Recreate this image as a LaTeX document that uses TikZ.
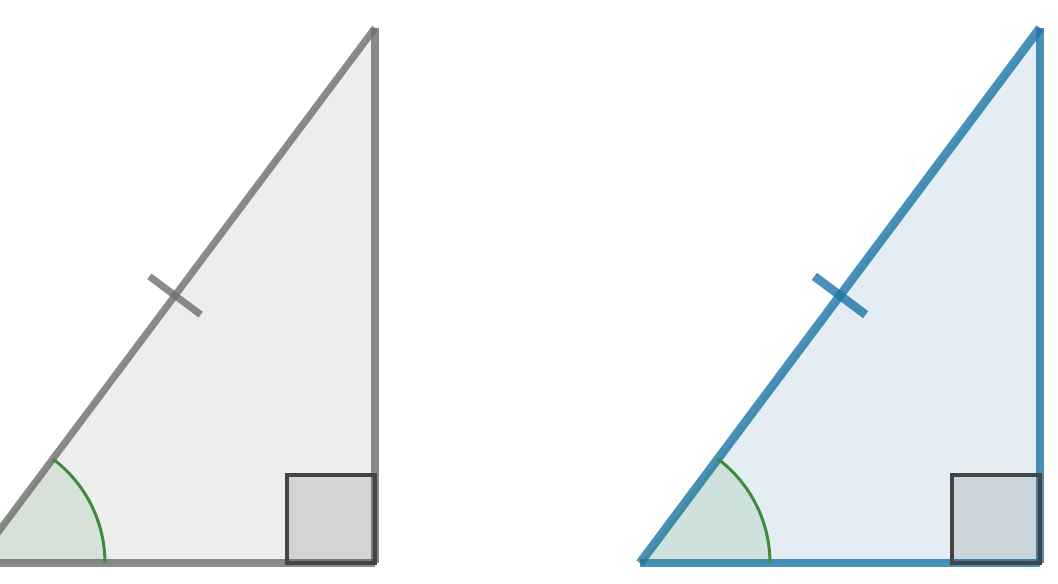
\documentclass[tikz,border=0pt]{standalone}
\usepackage{tikz}
\usetikzlibrary{calc}
\usepackage{xcolor}
\definecolor{edgegray}{HTML}{6E6E6E}
\definecolor{fillgray}{HTML}{EDEDED}
\definecolor{edgeblue}{HTML}{1B75A6}
\definecolor{fillblue}{HTML}{E4EDF4}
\definecolor{anglegreen}{HTML}{3C8C3C}
\definecolor{squaredark}{HTML}{444444}

\tikzset{
  side/.style={line width=#1, draw opacity=0.8},
  anglefill/.style={fill=anglegreen, fill opacity=0.12},
  anglearc/.style={draw=anglegreen, line width=1.7pt},
  rightmark/.style={draw=squaredark, line width=1.8pt, fill=black, fill opacity=0.1},
}

\begin{document}
\begin{tikzpicture}[x=0.02cm, y=0.02cm]
  \useasboundingbox (0,0) rectangle (1058,583);
  \clip (0,0) rectangle (1058,583);

  % left triangle (gray)
  \coordinate (gA) at (-25,20);
  \coordinate (gB) at (375,20);
  \coordinate (gC) at (375,555);
  \coordinate (gM) at ($(gA)!0.5!(gC)$);
  \fill[fillgray] (gA) -- (gB) -- (gC) -- cycle;
  \draw[edgegray, side=4pt] (gA) -- (gB);
  \draw[edgegray, side=4pt] (gB) -- (gC);
  \draw[edgegray, side=4pt] (gA) -- (gC);
  \draw[edgegray, side=4pt] ($(gM)!0.64cm!90:(gC)$) -- ($(gM)!0.64cm!-90:(gC)$);
  \fill[anglefill] (gA) -- ++(2.6cm,0) arc[start angle=0, end angle=53.2, radius=2.6cm] -- cycle;
  \draw[anglearc] ($(gA)+(2.6cm,0)$) arc[start angle=0, end angle=53.2, radius=2.6cm];
  \draw[rightmark] (gB) rectangle ++(-88,88);

  % right triangle (blue)
  \coordinate (bA) at (640,20);
  \coordinate (bB) at (1040,20);
  \coordinate (bC) at (1040,555);
  \coordinate (bM) at ($(bA)!0.5!(bC)$);
  \fill[fillblue] (bA) -- (bB) -- (bC) -- cycle;
  \draw[edgeblue, side=5pt] (bA) -- (bB);
  \draw[edgeblue, side=5pt] (bB) -- (bC);
  \draw[edgeblue, side=5pt] (bA) -- (bC);
  \draw[edgeblue, side=5pt] ($(bM)!0.64cm!90:(bC)$) -- ($(bM)!0.64cm!-90:(bC)$);
  \fill[anglefill] (bA) -- ++(2.6cm,0) arc[start angle=0, end angle=53.2, radius=2.6cm] -- cycle;
  \draw[anglearc] ($(bA)+(2.6cm,0)$) arc[start angle=0, end angle=53.2, radius=2.6cm];
  \draw[rightmark] (bB) rectangle ++(-88,88);
\end{tikzpicture}
\end{document}
